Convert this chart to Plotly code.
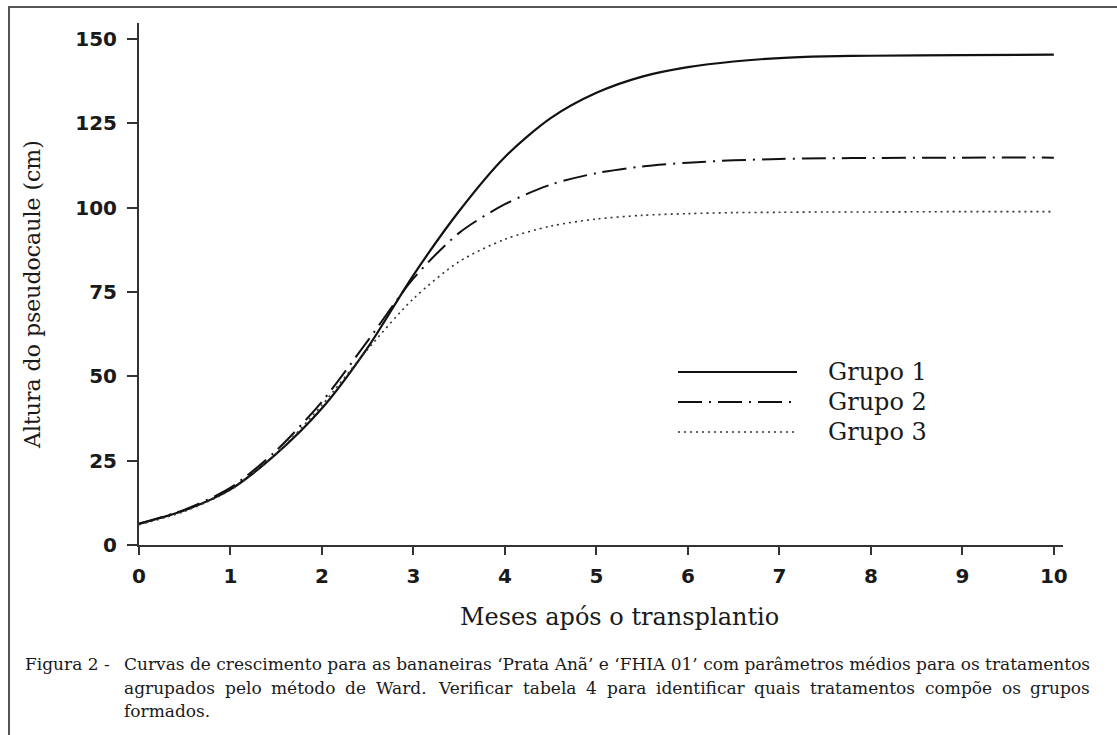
import plotly.graph_objects as go

# ---------------- data ----------------
months = [0, 0.5, 1, 1.5, 2, 2.5, 3, 3.5, 4, 4.5, 5, 5.5, 6, 6.5, 7, 7.5, 8, 9, 10]
grupo1 = [6.3, 10.3, 16.5, 27.0, 40.5, 58.5, 80.0, 99.0, 115.0, 126.5, 134.0, 138.8,
          141.6, 143.3, 144.3, 144.8, 145.0, 145.2, 145.3]
grupo2 = [6.3, 10.5, 17.0, 28.0, 42.5, 60.5, 79.0, 92.5, 101.0, 106.8, 110.2, 112.2,
          113.3, 114.0, 114.4, 114.6, 114.7, 114.8, 114.8]
grupo3 = [6.0, 10.0, 16.3, 27.0, 41.5, 58.0, 73.0, 84.0, 90.6, 94.5, 96.6, 97.7,
          98.2, 98.5, 98.6, 98.7, 98.7, 98.8, 98.8]

series_names = ["Grupo 1", "Grupo 2", "Grupo 3"]
x_ticks = list(range(0, 11))
y_ticks = [0, 25, 50, 75, 100, 125, 150]

x_title = "Meses após o transplantio"
y_title = "Altura do pseudocaule (cm)"
caption_head = "Figura 2 -"
caption_lines = [
    "Curvas de crescimento para as bananeiras ‘Prata Anã’ e ‘FHIA 01’ com parâmetros médios para os tratamentos",
    "agrupados pelo método de Ward. Verificar tabela 4 para identificar quais tratamentos compõe os grupos",
    "formados.",
]

# ---------------- layout geometry ----------------
W, H = 1117, 735
L, R, T, B = 139, 1063, 23, 545


def px(x):
    return (x - L) / (R - L)


def py(y):
    return (B - y) / (B - T)


INK = "#1a1a1a"
AX = "#333333"
SERIF = "DejaVu Serif"
CAP_SIZE = 17

# approximate DejaVu Serif advance widths (em), used to justify caption line 2
CW = {' ': .318, 'a': .596, 'b': .640, 'c': .560, 'd': .640, 'e': .592, 'f': .370,
      'g': .640, 'h': .644, 'i': .320, 'j': .310, 'k': .606, 'l': .320, 'm': .948,
      'n': .644, 'o': .602, 'p': .640, 'q': .640, 'r': .478, 's': .513, 't': .402,
      'u': .644, 'v': .565, 'w': .856, 'x': .564, 'y': .565, 'z': .527, '.': .318,
      '4': .636, 'W': 1.03, 'V': .722, 'é': .592, 'õ': .602}


def est(s):
    return sum(CW.get(c, 0.6) for c in s)


def justified(text, x_left, x_right, natural_px):
    """Left edges (px) of the words of a line spread from x_left to x_right."""
    words = text.split(" ")
    w_est = [est(w) for w in words]
    tot = sum(w_est) + CW[' '] * (len(words) - 1)
    k = natural_px / tot          # px per em, calibrated on the natural line width
    widths = [w * k for w in w_est]
    gap = (x_right - x_left - sum(widths)) / (len(words) - 1)
    out, x = [], x_left
    for w, wd in zip(words, widths):
        out.append((w, x))
        x += wd + gap
    return out


styles = [
    dict(color="#111111", width=2.2, dash="solid"),
    dict(color="#111111", width=2.0, dash="24px,7px,2px,7px"),
    dict(color="#333333", width=1.6, dash="2px,4px"),
]

fig = go.Figure()
for name, ys, st in zip(series_names, [grupo1, grupo2, grupo3], styles):
    fig.add_trace(go.Scatter(
        x=months, y=ys, mode="lines", name=name,
        line=dict(color=st["color"], width=st["width"], dash=st["dash"],
                  shape="spline", smoothing=0.8),
        showlegend=False,
    ))

shapes = []
annotations = []

# outer frame (only left & top edges visible in the reference crop)
shapes.append(dict(type="rect", xref="paper", yref="paper",
                   x0=px(9), x1=px(W + 30), y0=py(H + 30), y1=py(7),
                   line=dict(color="#555555", width=2), fillcolor="rgba(0,0,0,0)",
                   layer="below"))

# manual legend
leg_y = [372, 402, 432]
for name, st, yy in zip(series_names, styles, leg_y):
    shapes.append(dict(type="line", xref="paper", yref="paper",
                       x0=px(678), x1=px(797), y0=py(yy), y1=py(yy),
                       line=dict(color=st["color"], width=st["width"], dash=st["dash"])))
    annotations.append(dict(xref="paper", yref="paper", x=px(826), y=py(yy),
                            xanchor="left", yanchor="middle", showarrow=False,
                            text=name, font=dict(family=SERIF, size=24, color=INK)))

# axis titles
annotations.append(dict(xref="paper", yref="paper", x=px(619), y=py(617),
                        xanchor="center", yanchor="middle", showarrow=False,
                        text=x_title, font=dict(family=SERIF, size=24, color=INK)))
annotations.append(dict(xref="paper", yref="paper", x=px(32), y=py(295),
                        xanchor="center", yanchor="middle", showarrow=False,
                        textangle=-90,
                        text=y_title, font=dict(family=SERIF, size=22, color=INK)))

# caption
cap_font = dict(family=SERIF, size=CAP_SIZE, color=INK)
annotations.append(dict(xref="paper", yref="paper", x=px(23), y=py(664),
                        xanchor="left", yanchor="middle", showarrow=False,
                        text=caption_head, font=cap_font))
line_y = [664, 687.5, 711]
# lines 1 and 3 set as whole strings; line 2 justified word by word
annotations.append(dict(xref="paper", yref="paper", x=px(122), y=py(line_y[0]),
                        xanchor="left", yanchor="middle", showarrow=False,
                        text=caption_lines[0], font=cap_font))
for word, xw in justified(caption_lines[1], 122, 1088, 903):
    annotations.append(dict(xref="paper", yref="paper", x=px(xw), y=py(line_y[1]),
                            xanchor="left", yanchor="middle", showarrow=False,
                            text=word, font=cap_font))
annotations.append(dict(xref="paper", yref="paper", x=px(122), y=py(line_y[2]),
                        xanchor="left", yanchor="middle", showarrow=False,
                        text=caption_lines[2], font=cap_font))

tickfont = dict(family="DejaVu Sans", size=20, color=INK, weight="bold")
fig.update_layout(
    width=W, height=H,
    margin=dict(l=L, r=W - R, t=T, b=H - B, pad=0),
    paper_bgcolor="white", plot_bgcolor="white",
    shapes=shapes, annotations=annotations,
    xaxis=dict(range=[0, 10.1], tickvals=x_ticks, ticktext=[str(v) for v in x_ticks],
               showline=True, linecolor=AX, linewidth=2, ticks="outside",
               ticklen=8, tickwidth=2, tickcolor=AX, showgrid=False, zeroline=False,
               tickfont=tickfont, ticklabelstandoff=4),
    yaxis=dict(range=[0, 154.7], tickvals=y_ticks, ticktext=[str(v) for v in y_ticks],
               showline=True, linecolor=AX, linewidth=2, ticks="outside",
               ticklen=10, tickwidth=2, tickcolor=AX, showgrid=False, zeroline=False,
               tickfont=tickfont, ticklabelstandoff=6),
)

fig.write_html("out.html", config={"displayModeBar": False},
               post_script="document.body.style.margin='0';")
